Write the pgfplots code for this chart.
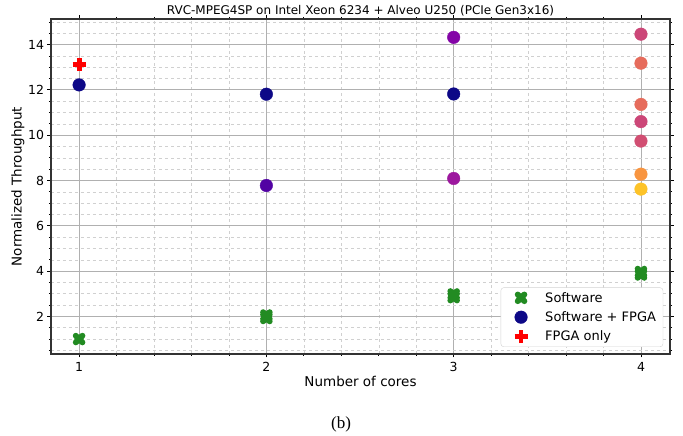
\documentclass[border=0pt]{standalone}
\usepackage{pgfplots}
\pgfplotsset{compat=1.18}
\usepackage{fontspec}
\setmainfont{DejaVu Sans}
\newfontfamily\capfont{Liberation Serif}

\definecolor{swgreen}{HTML}{228B22}
\definecolor{pnavy}{HTML}{0D0887}
\definecolor{ppurple}{HTML}{5202A3}
\definecolor{pviolet}{HTML}{8405A7}
\definecolor{pmagenta}{HTML}{9C179E}
\definecolor{ppink}{HTML}{CC4778}
\definecolor{ppink2}{HTML}{D14E72}
\definecolor{psalmon}{HTML}{E66C5C}
\definecolor{porange}{HTML}{F89540}
\definecolor{pyellow}{HTML}{FDC328}
\definecolor{gridmaj}{HTML}{B0B0B0}
\definecolor{gridmin}{HTML}{D0D0D0}

\pgfdeclareplotmark{fatx}{%
  \pgfsetroundcap
  \pgfsetlinewidth{0.9\pgfplotmarksize}%
  \pgfpathmoveto{\pgfqpoint{-0.5\pgfplotmarksize}{-0.5\pgfplotmarksize}}%
  \pgfpathlineto{\pgfqpoint{0.5\pgfplotmarksize}{0.5\pgfplotmarksize}}%
  \pgfpathmoveto{\pgfqpoint{-0.5\pgfplotmarksize}{0.5\pgfplotmarksize}}%
  \pgfpathlineto{\pgfqpoint{0.5\pgfplotmarksize}{-0.5\pgfplotmarksize}}%
  \pgfusepathqstroke
}
\pgfdeclareplotmark{fatplus}{%
  \pgfsetbuttcap
  \pgfsetlinewidth{0.75\pgfplotmarksize}%
  \pgfpathmoveto{\pgfqpoint{-\pgfplotmarksize}{0pt}}%
  \pgfpathlineto{\pgfqpoint{\pgfplotmarksize}{0pt}}%
  \pgfpathmoveto{\pgfqpoint{0pt}{-\pgfplotmarksize}}%
  \pgfpathlineto{\pgfqpoint{0pt}{\pgfplotmarksize}}%
  \pgfusepathqstroke
}
\pgfplotsset{
  widelegend/.style={legend image code/.code={%
    \path (-17pt,0pt) (20pt,0pt);
    \draw[##1] plot coordinates {(0pt,0pt)};}},
}

\begin{document}
\begin{tikzpicture}[x=1pt,y=1pt]
\path[use as bounding box] (0,0) rectangle (683,436);
\begin{axis}[
  at={(51pt,82pt)}, anchor=south west,
  scale only axis, width=619pt, height=335pt,
  xmin=0.85, xmax=4.155, ymin=0.34, ymax=15.13,
  xtick={1,2,3,4}, ytick={2,4,6,8,10,12,14},
  minor xtick={1.2,1.4,1.6,1.8,2.2,2.4,2.6,2.8,3.2,3.4,3.6,3.8},
  minor ytick={0.5,1,1.5,2.5,3,3.5,4.5,5,5.5,6.5,7,7.5,8.5,9,9.5,10.5,11,11.5,12.5,13,13.5,14.5,15},
  grid=both,
  major grid style={color=gridmaj, line width=0.8pt},
  minor grid style={color=gridmin, dashed, line width=0.5pt},
  tick align=outside,
  major tick length=3.5pt, minor tick length=2pt,
  tick style={color=black, line width=0.8pt},
  axis line style={line width=1.3pt, color=black!80},
  /pgf/number format/assume math mode=true,
  ticklabel style={font=\fontsize{12.5}{14}\selectfont},
  xticklabel style={yshift=-1pt},
  title={RVC-MPEG4SP on Intel Xeon 6234 + Alveo U250 (PCIe Gen3x16)},
  title style={font=\fontsize{12}{14}\selectfont, at={(axis description cs:0.5,1)}, anchor=base, yshift=-2pt},
  xlabel={Number of cores},
  ylabel={Normalized Throughput},
  xlabel style={font=\fontsize{13.5}{15}\selectfont, at={(axis description cs:0.5,0)}, anchor=center, yshift=-27pt},
  ylabel style={font=\fontsize{13.5}{15}\selectfont, at={(axis description cs:-0.0533,0.5)}, anchor=center},
  legend style={at={(0.989,0.021)}, anchor=south east, draw=gray!35, rounded corners=3pt, fill=white,
    font=\fontsize{13}{15}\selectfont, row sep=4pt, inner xsep=3pt, inner ysep=2.5pt,
    nodes={inner xsep=4pt}},
  legend cell align=left,
]
\addplot[only marks, mark=fatx, mark size=6.6pt, color=swgreen, widelegend] coordinates {
  (1,1.0) (2,1.93) (2,2.04) (3,2.85) (3,2.97) (4,3.85) (4,3.96)
};
\addlegendentry{Software}
\addplot[only marks, mark=*, mark size=6.3pt, color=pnavy, mark options={draw=pnavy, fill=pnavy}, widelegend] coordinates {
  (1,12.22) (2,11.81) (3,11.82)
};
\addlegendentry{Software + FPGA}
\addplot[only marks, mark=fatplus, mark size=6.5pt, color=red, widelegend] coordinates {
  (1,13.12)
};
\addlegendentry{FPGA only}
\addplot[forget plot, only marks, mark=*, mark size=6.3pt, color=ppurple, mark options={fill=ppurple, draw=ppurple}] coordinates {(2,7.78)};
\addplot[forget plot, only marks, mark=*, mark size=6.3pt, color=pviolet, mark options={fill=pviolet, draw=pviolet}] coordinates {(3,14.32)};
\addplot[forget plot, only marks, mark=*, mark size=6.3pt, color=pmagenta, mark options={fill=pmagenta, draw=pmagenta}] coordinates {(3,8.09)};
\addplot[forget plot, only marks, mark=*, mark size=6.3pt, color=ppink, mark options={fill=ppink, draw=ppink}] coordinates {(4,14.46) (4,10.6)};
\addplot[forget plot, only marks, mark=*, mark size=6.3pt, color=psalmon, mark options={fill=psalmon, draw=psalmon}] coordinates {(4,13.18) (4,11.36)};
\addplot[forget plot, only marks, mark=*, mark size=6.3pt, color=ppink2, mark options={fill=ppink2, draw=ppink2}] coordinates {(4,9.74)};
\addplot[forget plot, only marks, mark=*, mark size=6.3pt, color=porange, mark options={fill=porange, draw=porange}] coordinates {(4,8.28)};
\addplot[forget plot, only marks, mark=*, mark size=6.3pt, color=pyellow, mark options={fill=pyellow, draw=pyellow}] coordinates {(4,7.62)};
\end{axis}
\node[font=\capfont\fontsize{17}{19}\selectfont, anchor=center] at (341,12) {(b)};
\end{tikzpicture}
\end{document}
